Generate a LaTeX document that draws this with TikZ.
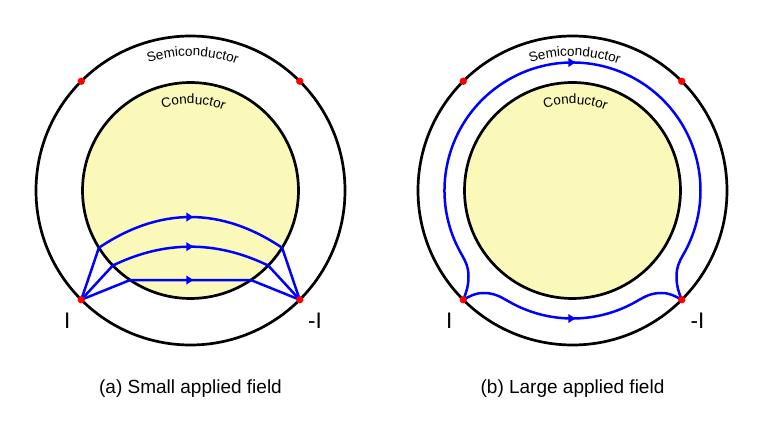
\documentclass[tikz,border=0pt]{standalone}
\usepackage{fontspec}
\setmainfont{Liberation Sans}
\usetikzlibrary{decorations.markings,decorations.text}
\definecolor{condyellow}{RGB}{250,249,185}
\newcommand\semfont{\fontsize{13.5}{16}\selectfont}
\begin{document}
\begin{tikzpicture}[x=1pt,y=1pt,
  wire/.style={draw=black,line width=2.7pt},
  current/.style={draw=blue,line width=2.5pt,
    postaction={decorate,decoration={markings,
      mark=at position 0.5 with {\fill[blue] (-4.2pt,-4.6pt) -- (2.8pt,0pt) -- (-4.2pt,4.6pt) -- cycle;}}}},
  contact/.style={fill=red},
  termlbl/.style={font=\fontsize{22.5}{27}\selectfont,inner sep=0pt},
  caption/.style={font=\fontsize{19}{23}\selectfont,inner sep=0pt,anchor=base},
  arctext/.style={decorate,decoration={text along path,text align=center,text={|\semfont|#1}}}
]
\useasboundingbox (0,0) rectangle (764,-430);

% ---------- (a) small applied field ----------
\begin{scope}[shift={(190.5,-190.5)}]
  \draw[wire] (0,0) circle[radius=154.5pt];
  \draw[wire,fill=condyellow] (0,0) circle[radius=108pt];
  \path[arctext=Semiconductor] (119.1:134.5pt) arc[start angle=119.1,end angle=59.1,radius=134.5pt];
  \path[arctext=Conductor] (128.1:86.5pt) arc[start angle=128.1,end angle=48.1,radius=86.5pt];
  \coordinate (aUL) at (135:154.5pt);
  \coordinate (aUR) at (45:154.5pt);
  \coordinate (aLL) at (225:154.5pt);
  \coordinate (aLR) at (-45:154.5pt);
  \coordinate (k1L) at (212:108pt);
  \coordinate (k1R) at (-32:108pt);
  \coordinate (k2L) at (224:108pt);
  \coordinate (k2R) at (-44:108pt);
  \coordinate (k3L) at (236:108pt);
  \coordinate (k3R) at (-56:108pt);
  \draw[current] (aLL) -- (k1L) .. controls (-30.5,-16.3) and (30.5,-16.3) .. (k1R) -- (aLR);
  \draw[current] (aLL) -- (k2L) .. controls (-25.9,-49.9) and (25.9,-49.9) .. (k2R) -- (aLR);
  \draw[current] (aLL) -- (k3L) -- (k3R) -- (aLR);
  \foreach \p in {aUL,aUR,aLL,aLR} \fill[contact] (\p) circle[radius=3.7pt];
  \node[termlbl] (aI) at (-123.2,-130.5) {I};
  \node[termlbl] (aMI) at (124.5,-130.5) {-I};
  \node[caption] (acap) at (0,-203.2) {(a) Small applied field};
\end{scope}

% ---------- (b) large applied field ----------
\begin{scope}[shift={(572.5,-190.5)}]
  \draw[wire] (0,0) circle[radius=154.5pt];
  \draw[wire,fill=condyellow] (0,0) circle[radius=108pt];
  \path[arctext=Semiconductor] (119.1:134.5pt) arc[start angle=119.1,end angle=59.1,radius=134.5pt];
  \path[arctext=Conductor] (128.1:86.5pt) arc[start angle=128.1,end angle=48.1,radius=86.5pt];
  \coordinate (bUL) at (135:154.5pt);
  \coordinate (bUR) at (45:154.5pt);
  \coordinate (bLL) at (225:154.5pt);
  \coordinate (bLR) at (-45:154.5pt);
  \coordinate (sL) at (-104,-86);
  \coordinate (sR) at (104,-86);
  \coordinate (uL) at (-89,-102.5);
  \coordinate (uR) at (89,-102.5);
  \draw[current] (bLL) to[out=68,in=-90] (sL) to[out=90,in=-60] (210:128pt)
    arc[start angle=210,end angle=-30,radius=128pt]
    to[out=-120,in=90] (sR) to[out=-90,in=112] (bLR);
  \draw[current] (bLL) to[out=28,in=180] (uL) to[out=0,in=150] (240:128pt)
    arc[start angle=240,end angle=300,radius=128pt]
    to[out=30,in=180] (uR) to[out=0,in=152] (bLR);
  \foreach \p in {bUL,bUR,bLL,bLR} \fill[contact] (\p) circle[radius=3.7pt];
  \node[termlbl] (bI) at (-123.2,-130.5) {I};
  \node[termlbl] (bMI) at (125.1,-130.5) {-I};
  \node[caption] (bcap) at (0,-203.2) {(b) Large applied field};
\end{scope}
\end{tikzpicture}
\end{document}
